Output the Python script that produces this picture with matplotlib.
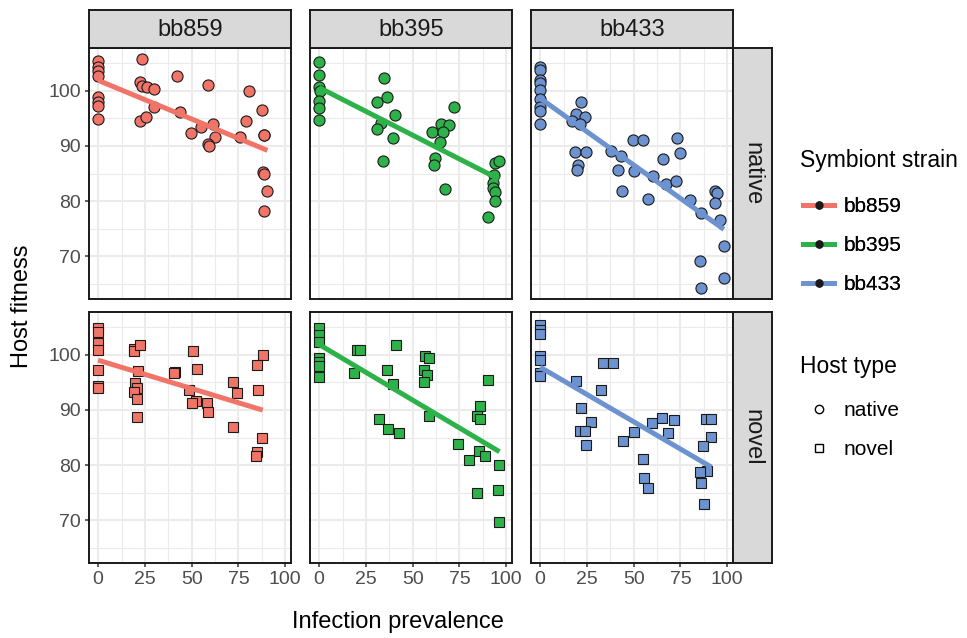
import numpy as np
import matplotlib
matplotlib.use("Agg")
from matplotlib import pyplot as plt
from matplotlib.lines import Line2D

plt.rcParams['font.family'] = ['Liberation Sans', 'DejaVu Sans']

strains = ['bb859', 'bb395', 'bb433']
hosts = ['native', 'novel']
colors = {'bb859': '#F07468', 'bb395': '#2DB24A', 'bb433': '#6C93CF'}

# infection prevalence (x) and host fitness (y)
bb859_native_x = [0, 0, 0, 0, 0, 0, 0, 0, 23.2, 22.5, 23.2, 25.9, 29.7, 29.7, 22.5, 25.5,
                  42.3, 43.5, 49.5, 55.2, 61.5, 62.4, 58.8, 59.2, 58.8, 75.9, 80.4, 79.3,
                  87.6, 88.5, 88.8, 88.1, 88.8, 90.5, 88.8]
bb859_native_y = [105.4, 104.3, 103.6, 102.7, 98.8, 97.9, 97.3, 94.9, 105.7, 101.6, 100.8, 100.7,
                  100.3, 97.0, 94.6, 95.2, 102.7, 96.1, 92.3, 93.4, 94.0, 91.6, 90.4, 89.9,
                  101.0, 91.6, 100.0, 94.6, 96.5, 91.9, 91.9, 85.2, 84.9, 81.9, 78.2]

bb395_native_x = [0, 0, 0, 0.4, 0, 0, 0, 34.5, 36.3, 31.0, 40.8, 33.2, 31.0, 39.7, 34.3,
                  72.2, 65.2, 69.3, 60.3, 66.1, 64.4, 62.1, 61.6, 67.1, 94.0, 96.0, 93.3,
                  92.8, 92.8, 94.0, 94.0, 90.4]
bb395_native_y = [105.3, 102.9, 100.7, 100.0, 98.2, 96.8, 94.7, 102.3, 98.9, 97.9, 95.6, 94.1,
                  93.0, 91.4, 87.3, 97.0, 93.9, 93.8, 92.5, 92.5, 90.8, 87.8, 86.6, 82.1,
                  86.9, 87.3, 84.8, 83.3, 82.3, 81.7, 80.0, 77.1]

bb433_native_x = [0, 0, 0, 0, 0, 0, 0, 0, 0, 22.0, 19.0, 24.2, 17.1, 21.1, 18.4, 24.7, 20.2,
                  19.9, 37.9, 43.3, 41.5, 43.5, 49.5, 54.9, 50.0, 60.3, 57.4, 65.9, 72.9,
                  74.7, 67.1, 72.6, 80.3, 86.1, 93.7, 94.6, 93.3, 96.0, 98.2, 85.2, 98.2, 86.1]
bb433_native_y = [104.4, 103.8, 101.9, 101.5, 100.2, 98.5, 97.1, 96.4, 93.9, 97.9, 95.8, 95.3,
                  94.5, 93.9, 88.9, 88.9, 86.6, 85.7, 89.0, 88.1, 85.7, 81.8, 91.1, 91.1,
                  85.4, 84.6, 80.3, 87.7, 91.4, 88.7, 83.1, 83.6, 80.2, 77.9, 81.8, 81.4,
                  79.6, 76.5, 71.9, 69.2, 66.0, 64.3]

bb859_novel_x = [0, 0, 0, 0, 0, 0, 0, 18.9, 19.2, 22.1, 21.5, 19.6, 20.5, 18.9, 20.5, 20.6,
                 41.1, 40.8, 50.8, 52.8, 48.5, 52.4, 50.1, 58.3, 58.7, 72.2, 74.1, 72.2,
                 88.0, 85.1, 85.6, 87.6, 84.7, 84.2]
bb859_novel_y = [104.9, 104.2, 102.1, 100.9, 97.2, 94.3, 94.0, 101.1, 100.7, 101.8, 97.1, 94.8,
                 94.0, 93.3, 92.0, 88.8, 96.9, 96.7, 100.7, 97.4, 93.6, 91.6, 91.2, 91.3,
                 89.7, 95.0, 93.1, 86.9, 99.9, 98.2, 93.7, 84.9, 82.3, 81.6]

bb395_novel_x = [0, 0, 0, 0, 0, 0, 0, 20.2, 21.7, 18.4, 41.0, 36.3, 39.4, 32.1, 36.6, 42.8,
                 56.7, 58.5, 55.8, 57.6, 56.3, 58.8, 90.3, 85.9, 84.5, 86.1, 74.5, 85.2,
                 80.1, 88.8, 96.0, 95.5, 84.5, 96.4]
bb395_novel_y = [104.9, 103.6, 102.4, 99.4, 98.7, 97.9, 95.9, 100.8, 100.8, 96.7, 101.7, 97.3,
                 94.7, 88.4, 86.5, 85.8, 99.8, 99.5, 97.3, 96.4, 95.1, 88.9, 95.4, 90.7,
                 88.9, 88.3, 83.8, 82.6, 80.9, 81.6, 80.1, 75.4, 74.9, 69.6]

bb433_novel_x = [0, 0, 0, 0, 0, 0, 0, 33.6, 39.0, 19.3, 32.5, 22.0, 27.3, 21.3, 23.8, 24.7,
                 44.2, 50.2, 54.9, 55.6, 57.8, 59.9, 65.2, 71.5, 68.1, 88.8, 91.2, 91.5,
                 87.2, 89.0, 85.4, 86.1, 87.4]
bb433_novel_y = [105.4, 104.5, 103.7, 99.7, 99.1, 96.7, 96.1, 98.5, 98.6, 95.3, 93.7, 90.4,
                 87.9, 86.2, 86.2, 83.7, 84.3, 86.0, 81.1, 77.6, 75.9, 87.7, 88.6, 88.1,
                 85.8, 88.4, 88.4, 85.1, 83.5, 78.9, 78.7, 76.8, 72.9]

data = {
    ('bb859', 'native'): (bb859_native_x, bb859_native_y),
    ('bb395', 'native'): (bb395_native_x, bb395_native_y),
    ('bb433', 'native'): (bb433_native_x, bb433_native_y),
    ('bb859', 'novel'): (bb859_novel_x, bb859_novel_y),
    ('bb395', 'novel'): (bb395_novel_x, bb395_novel_y),
    ('bb433', 'novel'): (bb433_novel_x, bb433_novel_y),
}

# shared scales with ggplot style 5% expansion
allx = np.concatenate([np.array(v[0], float) for v in data.values()])
ally = np.concatenate([np.array(v[1], float) for v in data.values()])
xr = allx.max() - allx.min()
yr = ally.max() - ally.min()
xlim = (allx.min() - 0.05 * xr, allx.max() + 0.05 * xr)
ylim = (ally.min() - 0.05 * yr, ally.max() + 0.05 * yr)

W, H = 967, 638
fig = plt.figure(figsize=(W / 100, H / 100), dpi=100)

col_left = [89, 310, 531]
pw = 202
row_top = [48, 312]
ph = 251

def fr(x0, y0, w, h):
    return [x0 / W, 1 - (y0 + h) / H, w / W, h / H]

grey_text = '#4D4D4D'

for r, host in enumerate(hosts):
    for c, strain in enumerate(strains):
        ax = fig.add_axes(fr(col_left[c], row_top[r], pw, ph))
        x = np.array(data[(strain, host)][0], float)
        y = np.array(data[(strain, host)][1], float)
        col = colors[strain]
        marker = 'o' if host == 'native' else 's'
        ms = 8.0 if host == 'native' else 7.2
        ax.plot(x, y, ls='none', marker=marker, ms=ms, mfc=col, mec='#1a1a1a',
                mew=0.8, zorder=3)
        b, a = np.polyfit(x, y, 1)
        xs = np.array([x.min(), x.max()])
        ax.plot(xs, a + b * xs, color=col, lw=3.6, solid_capstyle='butt', zorder=4)

        ax.set_xlim(xlim)
        ax.set_ylim(ylim)
        ax.set_xticks([0, 25, 50, 75, 100])
        ax.set_xticks([12.5, 37.5, 62.5, 87.5], minor=True)
        ax.set_yticks([70, 80, 90, 100])
        ax.set_yticks([65, 75, 85, 95, 105], minor=True)
        ax.grid(which='major', color='#EBEBEB', lw=1.5, zorder=0)
        ax.grid(which='minor', color='#EBEBEB', lw=0.8, zorder=0)
        ax.set_axisbelow(True)
        for s in ax.spines.values():
            s.set_color('#1a1a1a')
            s.set_linewidth(1.4)
        ax.tick_params(which='minor', length=0)
        ax.tick_params(which='major', length=3, width=1.1, color='#333333',
                       labelsize=14, labelcolor=grey_text, pad=3)
        if c != 0:
            ax.tick_params(axis='y', which='major', length=0, labelleft=False)
        if r != 1:
            ax.tick_params(axis='x', which='major', length=0, labelbottom=False)

# column strips
for c, strain in enumerate(strains):
    sax = fig.add_axes(fr(col_left[c], 10, pw, 38))
    sax.set_facecolor('#D9D9D9')
    sax.set_xticks([])
    sax.set_yticks([])
    for s in sax.spines.values():
        s.set_color('#1a1a1a')
        s.set_linewidth(1.4)
    sax.text(0.5, 0.48, strain, ha='center', va='center', fontsize=17,
             color='#1a1a1a', transform=sax.transAxes)

# row strips
for r, host in enumerate(hosts):
    sax = fig.add_axes(fr(733, row_top[r], 39, ph))
    sax.set_facecolor('#D9D9D9')
    sax.set_xticks([])
    sax.set_yticks([])
    for s in sax.spines.values():
        s.set_color('#1a1a1a')
        s.set_linewidth(1.4)
    sax.text(0.5, 0.5, host, ha='center', va='center', fontsize=17, rotation=-90,
             color='#1a1a1a', transform=sax.transAxes)

fig.text(398 / W, 1 - 622 / H, 'Infection prevalence', ha='center', va='center',
         fontsize=17, color='black')
fig.text(22 / W, 1 - 306 / H, 'Host fitness', ha='center', va='center',
         fontsize=17, rotation=90, color='black')

# legends (titles drawn separately for spacing control)
fig.text(800 / W, 1 - 160 / H, 'Symbiont strain', ha='left', va='center',
         fontsize=16.5, color='black')
fig.text(800 / W, 1 - 366 / H, 'Host type', ha='left', va='center',
         fontsize=16.5, color='black')

strain_handles = [Line2D([], [], color=colors[s], lw=3.6, marker='o', ms=5,
                         mfc='#1a1a1a', mec='#1a1a1a') for s in strains]
leg1 = fig.legend(strain_handles, strains, loc='upper left',
                  bbox_to_anchor=(803 / W, 1 - 197 / H), frameon=False, borderpad=0,
                  borderaxespad=0, fontsize=15, handlelength=1.5, handletextpad=0.45,
                  labelspacing=0.97)
fig.add_artist(leg1)

host_handles = [Line2D([], [], ls='none', marker='o', ms=6, mfc='none', mec='black', mew=1),
                Line2D([], [], ls='none', marker='s', ms=5.5, mfc='none', mec='black', mew=1)]
fig.legend(host_handles, hosts, loc='upper left',
           bbox_to_anchor=(803 / W, 1 - 401 / H), frameon=False, borderpad=0,
           borderaxespad=0, fontsize=15, handlelength=1.5, handletextpad=0.45,
           labelspacing=0.97)

fig.savefig('out.png', dpi=100)
